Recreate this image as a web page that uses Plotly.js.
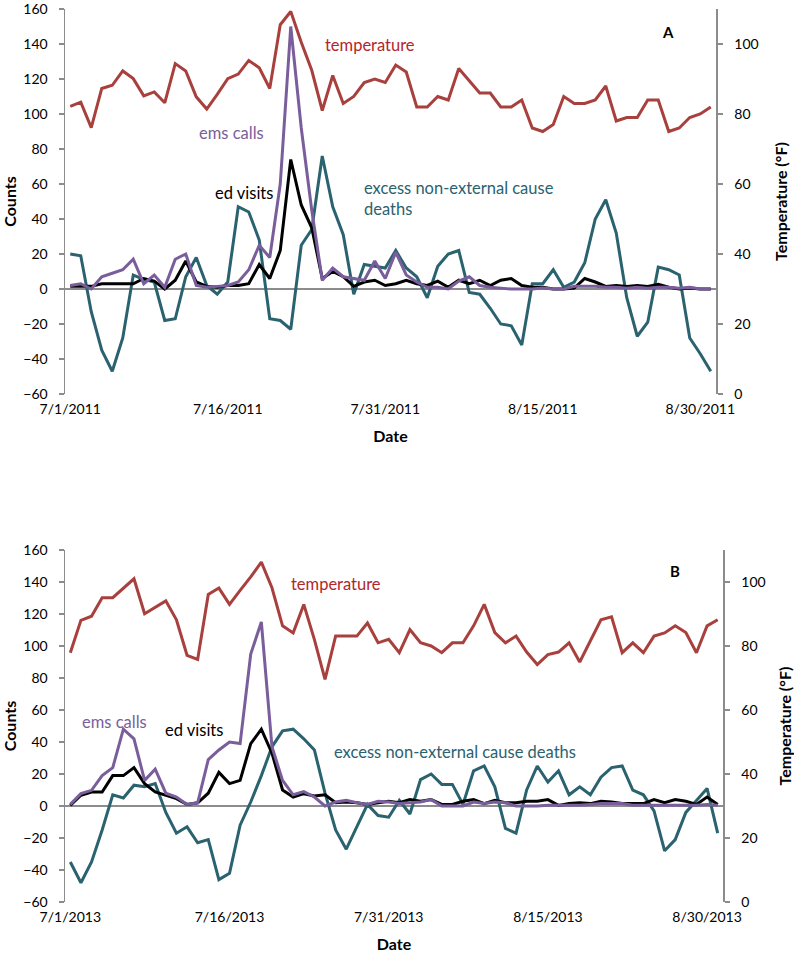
<!DOCTYPE html>
<html>
<head>
<meta charset="utf-8">
<script src="https://cdn.plot.ly/plotly-3.0.1.min.js"></script>
<style>
html,body{margin:0;padding:0;background:#fff;}
#chart{width:794px;height:959px;}
</style>
</head>
<body>
<div id="chart"></div>
<script>
// ---------- data ----------
const startA = '2011-07-01';
const startB = '2013-07-01';
const nDays = 62;

const tickDatesA = ['2011-07-01','2011-07-16','2011-07-31','2011-08-15','2011-08-30'];
const tickTextA  = ['7/1/2011','7/16/2011','7/31/2011','8/15/2011','8/30/2011'];
const tickDatesB = ['2013-07-01','2013-07-16','2013-07-31','2013-08-15','2013-08-30'];
const tickTextB  = ['7/1/2013','7/16/2013','7/31/2013','8/15/2013','8/30/2013'];

// Panel A (2011)
const tempA = [82.2,83.4,76.1,87.3,88.2,92.3,90.1,85.2,86.3,83.2,
               94.4,92.3,84.9,81.4,85.6,90.1,91.4,95.3,93.2,87.3,
               105.5,109.3,100.5,92.5,81,91,83,85,89,90,
               89,94,92,82,82,85,84,93,89.5,86,
               86,82,82,84,76,75,77,85,83,83,
               84,88,78,79,79,84,84,75,76,79,
               80,82];
const emsA = [2,3,0,7,9,11,17,3,8,1,
              17,20,2,1,1.5,2,4,11,25,18,
              60,150,92,45,5,12,7,6,5,16,
              6,21,8,4,1,1,0,4.5,7,2,
              1,0.5,0,0,0,0.5,0,0,1.5,1.5,
              1.5,1,1,0.5,1,0.5,1,1,0.5,1,
              0,0];
const edA = [1.5,1.5,1.5,3,3,3,3,6,4.5,0,
             5,16,4,1.5,1,2,2,3,14,6,
             22,74,48,35,6,10,7,1.5,4,5,
             2,3,5,3,2,4.5,1,5,3,5,
             2,5,6,2,1,1,0,0,0.5,6,
             4,1.5,2,1.5,2,1.5,2.7,1,0,0.5,
             0,0];
const deathsA = [20,19,-13,-35,-47,-28,8,5.5,4,-18,
                 -17,7,18,2,-3,4,47,44,28,-17,
                 -18,-23,25,34,76,47,31,-3,14,13,
                 12,22,12,7,-5,13,20,22,-2,-3,
                 -11,-20,-21,-32,3,3,11,1,4,15,
                 40,51,32,-5,-27,-19,12.5,11,8,-28,
                 -37,-47];

// Panel B (2013)
const tempB = [77.9,88,89.3,95.1,95.1,98.1,101,90.1,92.2,94.1,
               88.2,77.1,75.8,96.1,98.1,93,97.4,101.6,106.2,98.2,
               86.3,84.1,93,82,69.6,83.1,83.1,83.1,87.2,81,
               82.1,77.9,85.1,81,80,77.9,81,81,86.3,93,
               84.2,81,83.1,78.1,74.2,77.3,78.1,81,75,81.8,
               88.2,89.1,77.9,81,77.9,83.1,84.1,86.3,84.2,77.9,
               86.3,88.2];
const emsB = [1,7.7,9.8,19,24,48,42,16,23,8,
              5.6,1,2,29,35,40,39,95,115,37,
              16,7,9,5.6,0,2.5,3.5,2,1,3,
              2.5,1.5,2,2.5,4,0,0,0,2.5,1.5,
              2.5,2,0,0,0,0.5,0.5,0.5,0.5,1,
              1.5,1.5,1.5,0.5,0.5,0.5,0.5,0.5,0.5,0.5,
              1,0.5];
const edB = [0.4,6.7,8.75,8.75,19,19,24,14,8.75,6.7,
             4.6,1,2,8,21,14,16,39,48,33,
             10,5.6,7.7,6.3,7,2,2.5,2,1,2,
             3,2,4,3,4,1,1,3,4,1.5,
             3.5,2,2,3,3,4,0.4,1.5,2,1.5,
             3,2.5,1.5,1.5,1.5,4,2,4,3,1,
             5.6,1];
const deathsB = [-35,-48,-35,-15,7,5,13,12,14,-4,
                 -17,-13,-23,-21,-46,-42,-12,2.5,19,37,
                 47,48,42,35,8,-15,-27,-13,1,-6,
                 -7,3.5,-5,16.5,20,13.5,13.5,1,22,25,
                 12,-14,-17,10,25,15,22,7,12,7,
                 18,24,25,10,7,-3,-28,-21,-4,3.5,
                 11,-17];

// ---------- helpers ----------
function dayList(start, n){
  const out = [];
  const d0 = new Date(start + 'T00:00:00Z');
  for (let i = 0; i < n; i++){
    const d = new Date(d0.getTime() + i*86400000);
    out.push(d.toISOString().slice(0,10));
  }
  return out;
}
function shift(dateStr, hours){
  const d = new Date(dateStr + 'T00:00:00Z');
  const t = new Date(d.getTime() + hours*3600000);
  return t.toISOString().replace('T',' ').slice(0,19);
}
const datesA = dayList(startA, nDays);
const datesB = dayList(startB, nDays);

const C_TEMP = '#A8403D';
const C_TEMP_TXT = '#B3262A';
const C_EMS = '#7A5E9C';
const C_ED = '#000000';
const C_DEATH = '#2A6270';
const AXC = '#8C8C8C';
const FONT = 'Lato, "Open Sans", sans-serif';
const LW = 3;

function line(x, y, color, xa, ya, name){
  return {x:x, y:y, type:'scatter', mode:'lines', name:name,
          line:{color:color, width:LW}, xaxis:xa, yaxis:ya, hoverinfo:'x+y+name'};
}

const traces = [
  line(datesA, deathsA, C_DEATH, 'x', 'y', 'excess non-external cause deaths'),
  line(datesA, edA, C_ED, 'x', 'y', 'ed visits'),
  line(datesA, emsA, C_EMS, 'x', 'y', 'ems calls'),
  line(datesA, tempA, C_TEMP, 'x', 'y2', 'temperature'),
  line(datesB, deathsB, C_DEATH, 'x2', 'y3', 'excess non-external cause deaths'),
  line(datesB, edB, C_ED, 'x2', 'y3', 'ed visits'),
  line(datesB, emsB, C_EMS, 'x2', 'y3', 'ems calls'),
  line(datesB, tempB, C_TEMP, 'x2', 'y4', 'temperature')
];

const W = 794, H = 959;
function fx(px){ return px / W; }
function fy(py){ return 1 - py / H; }

const tickFont = {family: FONT, size: 14, color: '#000'};
const titleFont = {family: FONT, size: 16, color: '#000', weight: 'bold'};

function countAxis(domain, anchor){
  return {domain: domain, anchor: anchor, range: [-60,160], dtick: 20, tick0: 0,
          showgrid: false, zeroline: true, zerolinecolor: AXC, zerolinewidth: 1.5,
          showline: true, linecolor: AXC, linewidth: 1.5,
          ticks: 'outside', ticklen: 5, tickcolor: AXC, tickwidth: 1.5,
          ticklabelstandoff: 8, ticklabeloverflow: 'allow',
          tickfont: tickFont, fixedrange: true,
          title: {text: 'Counts', font: titleFont, standoff: 6}};
}
function tempAxis(overlay, anchor){
  return {overlaying: overlay, anchor: anchor, side: 'right', range: [0,110], dtick: 20, tick0: 0,
          showgrid: false, zeroline: false,
          showline: true, linecolor: AXC, linewidth: 1.5,
          ticks: 'outside', ticklen: 5, tickcolor: AXC, tickwidth: 1.5,
          ticklabelstandoff: 9, ticklabeloverflow: 'allow',
          tickfont: tickFont, fixedrange: true,
          title: {text: 'Temperature (°F)', font: titleFont, standoff: 18}};
}
function dateAxis(domain, anchor, start, vals, text){
  const last = dayList(start, nDays)[nDays-1];
  return {domain: domain, anchor: anchor, type: 'date',
          range: [shift(start, -12), shift(last, 12)],
          tickvals: vals, ticktext: text, tickfont: tickFont,
          showgrid: false, zeroline: false, showline: false, ticks: '',
          ticklabelstandoff: 5, ticklabeloverflow: 'allow',
          fixedrange: true,
          title: {text: 'Date', font: titleFont, standoff: 14}};
}

const annFont = (c) => ({family: FONT, size: 16.5, color: c});
const annotations = [
  // panel A
  {text: 'temperature', x: fx(323), y: fy(45), xanchor: 'left', yanchor: 'middle', font: annFont(C_TEMP_TXT)},
  {text: 'ems calls', x: fx(197), y: fy(133), xanchor: 'left', yanchor: 'middle', font: annFont(C_EMS)},
  {text: 'ed visits', x: fx(213), y: fy(193), xanchor: 'left', yanchor: 'middle', font: annFont(C_ED)},
  {text: 'excess non-external cause<br>deaths', x: fx(362), y: fy(199), xanchor: 'left', yanchor: 'middle', align: 'left', font: annFont(C_DEATH)},
  {text: '<b>A</b>', x: fx(668), y: fy(32), xanchor: 'center', yanchor: 'middle', font: {family: FONT, size: 15, color: '#000'}},
  // panel B
  {text: 'temperature', x: fx(289), y: fy(584), xanchor: 'left', yanchor: 'middle', font: annFont(C_TEMP_TXT)},
  {text: 'ems calls', x: fx(80), y: fy(722), xanchor: 'left', yanchor: 'middle', font: annFont(C_EMS)},
  {text: 'ed visits', x: fx(163), y: fy(730), xanchor: 'left', yanchor: 'middle', font: annFont(C_ED)},
  {text: 'excess non-external cause deaths', x: fx(332), y: fy(752), xanchor: 'left', yanchor: 'middle', font: annFont(C_DEATH)},
  {text: '<b>B</b>', x: fx(675), y: fy(571), xanchor: 'center', yanchor: 'middle', font: {family: FONT, size: 15, color: '#000'}}
].map(a => Object.assign({xref: 'paper', yref: 'paper', showarrow: false}, a));

const layout = {
  width: W, height: H,
  margin: {l: 0, r: 0, t: 0, b: 0},
  paper_bgcolor: '#ffffff', plot_bgcolor: '#ffffff',
  showlegend: false,
  font: {family: FONT},
  xaxis: dateAxis([fx(65), fx(716)], 'y', startA, tickDatesA, tickTextA),
  yaxis: countAxis([fy(394), fy(9)], 'x'),
  yaxis2: tempAxis('y', 'x'),
  xaxis2: dateAxis([fx(65), fx(723)], 'y3', startB, tickDatesB, tickTextB),
  yaxis3: countAxis([fy(902), fy(550)], 'x2'),
  yaxis4: tempAxis('y3', 'x2'),
  annotations: annotations
};

Plotly.newPlot('chart', traces, layout, {displayModeBar: false, staticPlot: true});
</script>
</body>
</html>
